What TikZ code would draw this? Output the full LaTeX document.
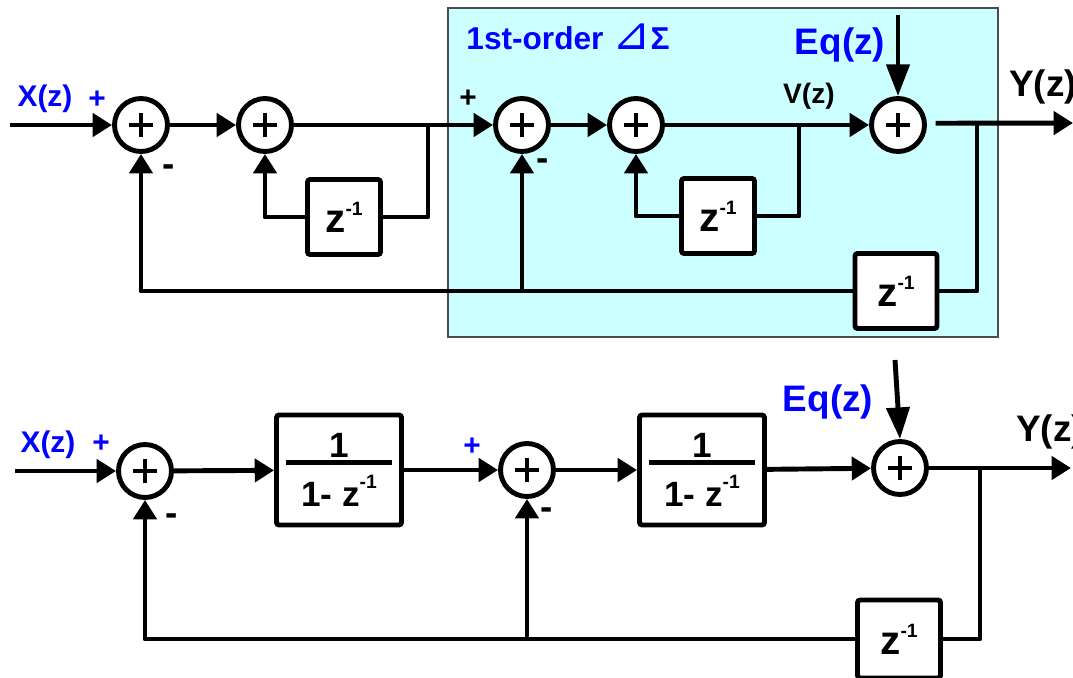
\documentclass[tikz,border=0pt]{standalone}
\usepackage{fontspec}
\setmainfont{Liberation Sans}
\newfontfamily\dvsfont{DejaVu Sans}
\usetikzlibrary{arrows.meta,calc}
\definecolor{labblue}{RGB}{0,0,255}
\definecolor{cyanbg}{RGB}{204,255,255}
\newcommand\zinvtxt{z\raisebox{9.5pt}{\fontsize{11}{11}\selectfont -1}}
\newcommand\fractxt{1\\[-18pt]\rule{60pt}{2.3pt}\\[2pt]1- z\raisebox{10.5pt}{\fontsize{11}{11}\selectfont -1}}
\begin{document}
\begin{tikzpicture}[x=0.02cm,y=-0.02cm,
  wire/.style={line width=2.8pt,line join=round},
  arr/.style={wire,-{Triangle[length=11pt,width=13pt]}},
  bigarr/.style={wire,-{Triangle[length=18pt,width=13pt]}},
  sumnode/.style={circle,draw,line width=2.8pt,fill=white,minimum size=1.06cm,inner sep=0pt,
    path picture={
      \draw[line width=2.3pt] ([xshift=-7pt]path picture bounding box.center) -- ([xshift=7pt]path picture bounding box.center);
      \draw[line width=2.3pt] ([yshift=-7pt]path picture bounding box.center) -- ([yshift=7pt]path picture bounding box.center);
    }},
  dly/.style={draw,line width=2.8pt,fill=white,rounded corners=1.5pt,inner sep=0pt,
    font=\bfseries\fontsize{23}{25}\selectfont},
  frbox/.style={draw,line width=2.8pt,fill=white,rounded corners=1.5pt,inner sep=0pt,
    minimum width=2.5cm,minimum height=2.2cm,align=center,
    font=\bfseries\fontsize{20}{22}\selectfont},
  bl/.style={text=labblue,font=\bfseries\fontsize{17}{19}\selectfont},
  blbig/.style={text=labblue,font=\bfseries\fontsize{21}{23}\selectfont},
  blk/.style={text=black,font=\bfseries\fontsize{17}{19}\selectfont},
  blkm/.style={text=black,font=\bfseries\fontsize{21}{23}\selectfont},
  blkbig/.style={text=black,font=\bfseries\fontsize{21}{23}\selectfont},
]
\useasboundingbox (0,0) rectangle (1073,677);
% background region
\draw[fill=cyanbg,draw=black!70,line width=0.6pt] (448,8) rectangle (998,337);

% ---------- top diagram ----------
\node[sumnode] (A) at (141,125) {};
\node[sumnode] (B) at (265,125) {};
\node[sumnode] (C) at (522,125) {};
\node[sumnode] (D) at (636,125) {};
\node[sumnode] (E) at (898,125) {};
\node[dly,minimum width=1.46cm,minimum height=1.5cm] (D1) at (344,217) {\zinvtxt};
\node[dly,minimum width=1.46cm,minimum height=1.5cm] (D2) at (718,216) {\zinvtxt};
\node[dly,minimum width=1.64cm,minimum height=1.5cm] (D3) at (896,291) {\zinvtxt};

\coordinate (xin1) at (10,125);
\coordinate (j1) at (428,125);
\coordinate (j2) at (799,125);
\coordinate (jo1) at (977,123);
\coordinate (yout1) at (1073,123);
\coordinate (eqt1) at (898,15);

\draw[arr] (xin1) -- (A);
\draw[arr] (A) -- (B);
\draw[arr] (B) -- (C);
\draw[wire] (j1) |- (D1.east);
\draw[arr] (D1.west) -| (B.south);
\draw[arr] (C) -- (D);
\draw[arr] (D) -- (E);
\draw[wire] (j2) |- (D2.east);
\draw[arr] (D2.west) -| (D.south);
\draw[bigarr] (eqt1) -- (E.north);
\draw[arr] ([xshift=5pt,yshift=1pt]E.east) -- (yout1);
\draw[wire] (jo1) |- (D3.east);
\draw[arr] (D3.west) -| (A.south);
\draw[arr] (C.south |- D3.west) -- (C.south);

\node[bl] (lx1) at (45,99) {X(z)};
\node[bl] (lp1) at (97,100) {+};
\node[blkm] (lm1) at (169,171) {-};
\node[blk] (lp2) at (468,99) {+};
\node[blkm] (lm2) at (543,165) {-};
\node[blk,font=\bfseries\fontsize{16}{18}\selectfont] (lv) at (809,96) {V(z)};
\node[blbig] (leq1) at (840,45) {Eq(z)};
\node[blkbig,anchor=west] (ly1) at (1003,87) {Y(z)};
\node[bl,font=\bfseries\fontsize{18}{20}\selectfont] (ltitle) at (568,37) {1st-order {\dvsfont\mdseries\fontsize{26}{26}\selectfont ⊿}Σ};

% ---------- bottom diagram ----------
\node[sumnode] (F) at (145,471) {};
\node[frbox] (G) at (339,470) {\fractxt};
\node[sumnode] (H) at (527,470) {};
\node[frbox] (I) at (702,470) {\fractxt};
\node[sumnode] (J) at (900,468) {};
\node[dly,minimum width=1.66cm,minimum height=1.56cm] (D4) at (899,639) {\zinvtxt};

\coordinate (xin2) at (15,471);
\coordinate (jo2) at (980,468);
\coordinate (yout2) at (1071,468);
\coordinate (eqt2) at (895,360);

\draw[arr] (xin2) -- (F);
\draw[arr] (F) -- (G);
\draw[arr] (G) -- (H);
\draw[arr] (H) -- (I);
\draw[arr] (I) -- (J);
\draw[bigarr] (eqt2) -- (J.north);
\draw[arr] (J) -- (yout2);
\draw[wire] (jo2) |- (D4.east);
\draw[arr] (D4.west) -| (F.south);
\draw[arr] (H.south |- D4.west) -- (H.south);

\node[bl] (lx2) at (48,445) {X(z)};
\node[bl] (lp3) at (101,444) {+};
\node[blkm] (lm3) at (172,520) {-};
\node[bl] (lp4) at (472,447) {+};
\node[blkm] (lm4) at (547,514) {-};
\node[blbig] (leq2) at (828,402) {Eq(z)};
\node[blkbig,anchor=west] (ly2) at (1010,432) {Y(z)};
\end{tikzpicture}
\end{document}
